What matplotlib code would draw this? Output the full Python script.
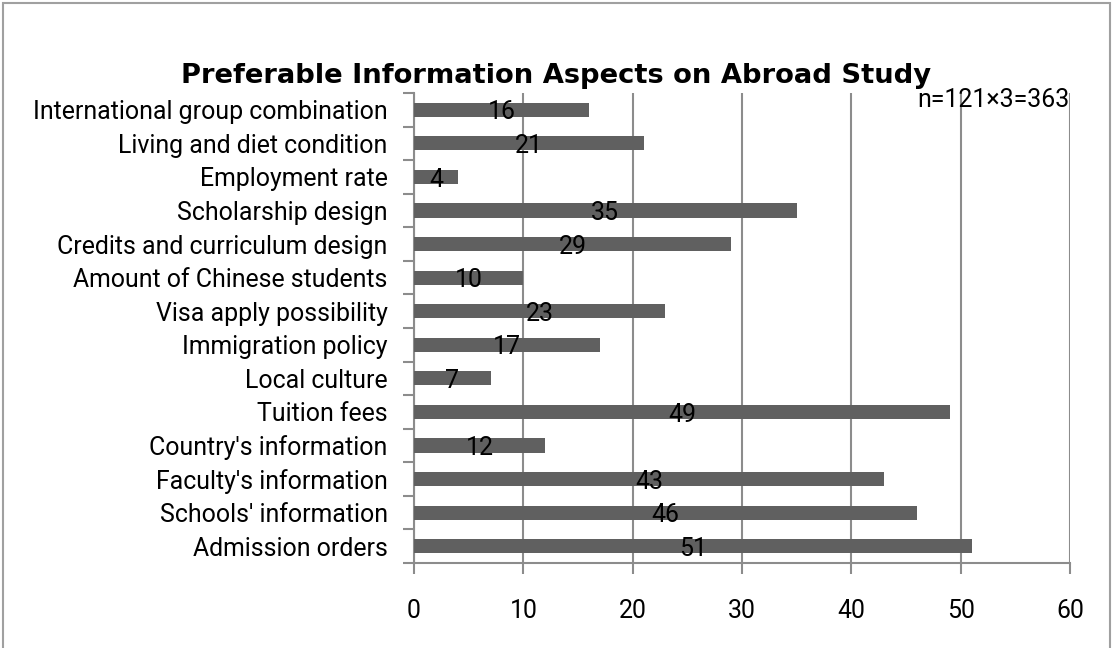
import matplotlib

matplotlib.use("Agg")
import matplotlib.pyplot as plt
from matplotlib.patches import Rectangle

# categories listed bottom to top, as drawn on the y axis
categories = [
    "Admission orders",
    "Schools' information",
    "Faculty's information",
    "Country's information",
    "Tuition fees",
    "Local culture",
    "Immigration policy",
    "Visa apply possibility",
    "Amount of Chinese students",
    "Credits and curriculum design",
    "Scholarship design",
    "Employment rate",
    "Living and diet condition",
    "International group combination",
]
counts = [51, 46, 43, 12, 49, 7, 17, 23, 10, 29, 35, 4, 21, 16]
xticks = [0, 10, 20, 30, 40, 50, 60]
note = "n=121\u00d73=363"

BAR = "#606060"
GRID = "#8c8c8c"
BODY_FONT = ["Roboto", "DejaVu Sans"]
FS = 17.9

fig = plt.figure(figsize=(11.12, 6.48), dpi=100)
ax = fig.add_axes([0.3723, 0.1312, 0.5899, 0.7253])

ypos = list(range(len(categories)))
ax.barh(ypos, counts, height=0.42, color=BAR, zorder=3)
for y, v in zip(ypos, counts):
    ax.text(v / 2, y - 0.08, str(v), ha="center", va="center",
            fontsize=FS, family=BODY_FONT, color="black", zorder=4)

ax.set_xlim(0, 60)
ax.set_ylim(-0.5, len(categories) - 0.5)
ax.set_xticks(xticks)
ax.set_xticklabels([str(t) for t in xticks], family=BODY_FONT, fontsize=FS)
ax.xaxis.grid(True, color=GRID, lw=1.5, zorder=0)

# category names at bar centres, tick marks on the boundaries between them
ax.set_yticks(ypos)
ax.set_yticklabels(categories, family=BODY_FONT, fontsize=FS)
ax.tick_params(axis="y", length=0, pad=19)
ax.set_yticks([i - 0.5 for i in range(len(categories) + 1)], minor=True)
ax.tick_params(axis="y", which="minor", length=8, width=1.5, color=GRID,
               direction="out")
ax.tick_params(axis="x", length=8, width=1.5, color=GRID, direction="out",
               pad=18)

for side in ("top", "right"):
    ax.spines[side].set_visible(False)
for side in ("left", "bottom"):
    ax.spines[side].set_color(GRID)
    ax.spines[side].set_linewidth(1.5)

ax.text(1.0, 0.985, note, transform=ax.transAxes, ha="right", va="center",
        fontsize=FS, family=BODY_FONT)

fig.text(0.5, 0.882, "Preferable Information Aspects on Abroad Study",
         ha="center", va="center", fontsize=19.7, fontweight="bold",
         family=["DejaVu Sans"])

fig.patches.append(Rectangle((3 / 1112, -0.05), 1107 / 1112, 1.05 - 3 / 648,
                             transform=fig.transFigure, fill=False,
                             edgecolor="#a0a0a0", lw=1.5))

fig.savefig("out.png", dpi=100)
